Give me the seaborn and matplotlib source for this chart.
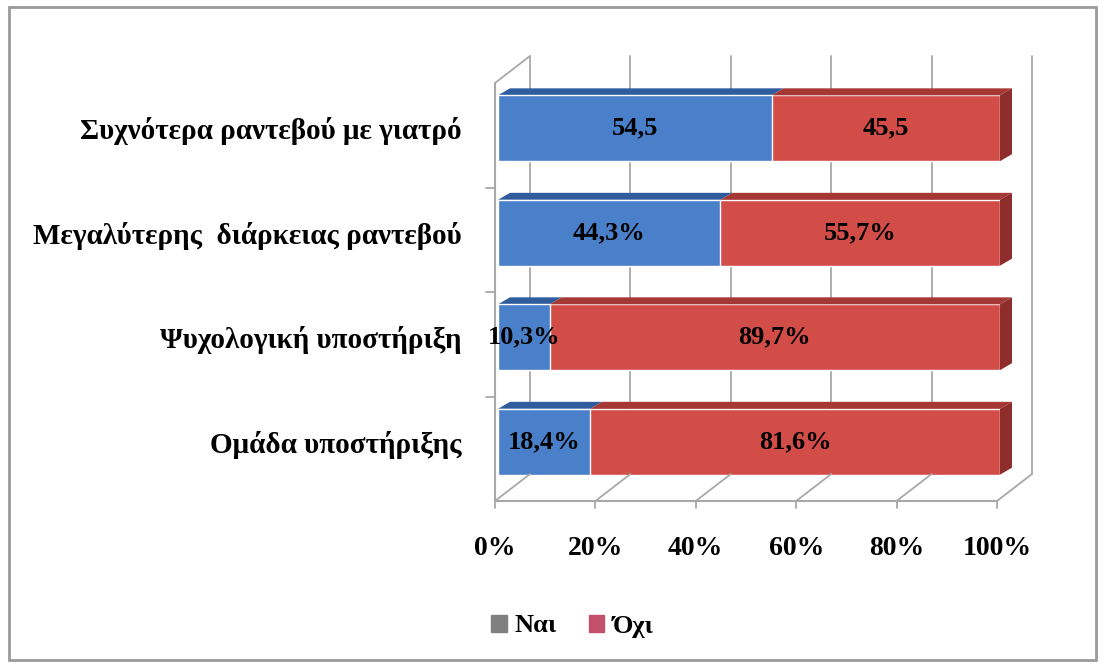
import matplotlib
matplotlib.use("Agg")
import matplotlib.pyplot as plt
import seaborn as sns
import pandas as pd
from matplotlib.transforms import ScaledTranslation
from matplotlib.patches import ConnectionPatch, Polygon, Patch, Rectangle

# --- data ---
categories = [
    "Συχνότερα ραντεβού με γιατρό",
    "Μεγαλύτερης  διάρκειας ραντεβού",
    "Ψυχολογική υποστήριξη",
    "Ομάδα υποστήριξης",
]
nai = [54.5, 44.3, 10.3, 18.4]
oxi = [45.5, 55.7, 89.7, 81.6]
nai_labels = ["54,5", "44,3%", "10,3%", "18,4%"]
oxi_labels = ["45,5", "55,7%", "89,7%", "81,6%"]
x_ticks = [0, 20, 40, 60, 80, 100]
x_tick_labels = ["0%", "20%", "40%", "60%", "80%", "100%"]

BLUE = "#4a7fc9"
BLUE_TOP = "#2f5c9c"
RED = "#d24c48"
RED_TOP = "#a53835"
GRID = "#a8a8a8"

sns.set_style("white")
plt.rcParams["font.family"] = ["Liberation Serif", "DejaVu Serif"]
plt.rcParams["font.weight"] = "bold"
plt.rcParams["text.color"] = "black"
plt.rcParams["xtick.color"] = "black"
plt.rcParams["ytick.color"] = "black"

W, H = 1105, 666
fig = plt.figure(figsize=(W / 100, H / 100), dpi=100)
ax = fig.add_axes([498 / W, 1 - 494 / H, 502 / W, 418 / H])
ax.set_facecolor("none")

df = pd.DataFrame({"cat": categories, "nai": nai, "oxi": oxi})
df["total"] = df["nai"] + df["oxi"]

bar_h = 0.63
sns.barplot(data=df, y="cat", x="total", color=RED, saturation=1, width=bar_h,
            orient="h", ax=ax, zorder=3)
sns.barplot(data=df, y="cat", x="nai", color=BLUE, saturation=1, width=bar_h,
            orient="h", ax=ax, zorder=4)
ax.set_xlim(0, 100)
ax.set_ylim(3.5, -0.5)
ax.set_xlabel("")
ax.set_ylabel("")
sns.despine(ax=ax, left=True, bottom=True)

# 3D frame: front plane, back wall
px = fig.dpi_scale_trans
front = ax.transData + ScaledTranslation(-3 / 100, -7 / 100, px)
back = ax.transData + ScaledTranslation(32 / 100, 20 / 100, px)
yb, yt = 3.5, -0.5

for x in x_ticks:
    ax.plot([x, x], [yb, yt], transform=back, color=GRID, lw=1.3, clip_on=False, zorder=1)
    fig.add_artist(ConnectionPatch((x, yb), (x, yb), coordsA=front, coordsB=back,
                                   color=GRID, lw=1.3, zorder=1))
    ax.plot([x, x], [yb, yb + 0.07], transform=front, color=GRID, lw=1.3, clip_on=False)
fig.add_artist(ConnectionPatch((0, yt), (0, yt), coordsA=front, coordsB=back,
                               color=GRID, lw=1.3, zorder=1))
ax.plot([0, 100], [yb, yb], transform=front, color=GRID, lw=1.5, clip_on=False, zorder=2)
ax.plot([0, 0], [yb, yt], transform=front, color=GRID, lw=1.5, clip_on=False, zorder=2)
for y in [0.5, 1.5, 2.5]:
    ax.plot([0, -1.8], [y, y], transform=front, color=GRID, lw=1.3, clip_on=False)

# top and end faces of the bars
sx = 100 / 502
sy = 4 / 418
dx, dy = 12 * sx, 7 * sy
for i in range(len(categories)):
    top = i - bar_h / 2
    bot = i + bar_h / 2
    segs = [(0, nai[i], BLUE_TOP), (nai[i], nai[i] + oxi[i], RED_TOP)]
    for x0, x1, c in segs:
        ax.add_patch(Polygon([(x0, top), (x1, top), (x1 + dx, top - dy), (x0 + dx, top - dy)],
                             closed=True, color=c, zorder=3, clip_on=False, lw=0))
    end = nai[i] + oxi[i]
    ax.add_patch(Polygon([(end, top), (end + dx, top - dy), (end + dx, bot - dy), (end, bot)],
                         closed=True, color="#8e2e2c", zorder=3, clip_on=False, lw=0))

# value labels
for i in range(len(categories)):
    ax.text(nai[i] / 2, i, nai_labels[i], ha="center", va="center",
            fontsize=19, fontweight="bold", zorder=6)
    ax.text(nai[i] + oxi[i] / 2, i, oxi_labels[i], ha="center", va="center",
            fontsize=19, fontweight="bold", zorder=6)

ax.set_xticks(x_ticks, x_tick_labels)
ax.tick_params(axis="x", length=0, pad=30, labelsize=20)
ax.tick_params(axis="y", length=0, pad=26, labelsize=21)
for lab in ax.get_xticklabels():
    lab.set_fontweight("bold")
    lab.set_transform(lab.get_transform() + ScaledTranslation(-3 / 100, 0, px))
for lab in ax.get_yticklabels():
    lab.set_fontweight("bold")

handles = [Patch(color="#808080", label="Ναι"), Patch(color="#c2506a", label="Όχι")]
fig.legend(handles=handles, loc="center", bbox_to_anchor=(572 / W, 1 - 626 / H), ncol=2,
           frameon=False, fontsize=19, handlelength=0.6, handleheight=0.6,
           handletextpad=0.3, columnspacing=1.2)

fig.add_artist(Rectangle((9 / W, 6 / H), (1096 - 9) / W, (660 - 7) / H,
                         transform=fig.transFigure, fill=False, edgecolor="#9a9a9a", lw=2))

fig.savefig("out.png", dpi=100)
